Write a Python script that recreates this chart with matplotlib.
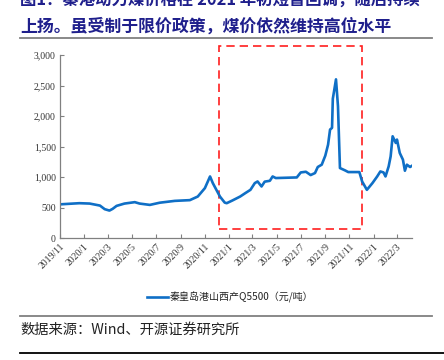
import pandas as pd
import matplotlib.pyplot as plt
import matplotlib.dates as mdates
from matplotlib.patches import Rectangle
from matplotlib.lines import Line2D

plt.rcParams['font.family'] = ['Noto Sans CJK SC', 'DejaVu Sans']

dates = pd.to_datetime([
    '2019-11-01', '2019-12-20', '2020-01-15', '2020-02-10', '2020-02-22', '2020-03-05',
    '2020-03-13', '2020-03-23', '2020-04-12', '2020-05-08', '2020-05-20', '2020-06-15',
    '2020-07-10', '2020-08-17', '2020-09-24', '2020-10-14', '2020-11-01', '2020-11-14',
    '2020-11-21', '2020-12-09', '2020-12-21', '2020-12-26', '2021-01-09', '2021-01-29',
    '2021-02-11', '2021-02-24', '2021-03-07', '2021-03-14', '2021-03-24', '2021-04-01',
    '2021-04-14', '2021-04-21', '2021-04-29', '2021-06-21', '2021-07-01', '2021-07-14',
    '2021-07-26', '2021-08-06', '2021-08-13', '2021-08-23', '2021-09-01', '2021-09-08',
    '2021-09-13', '2021-09-18', '2021-09-20', '2021-09-28', '2021-10-03', '2021-10-08',
    '2021-10-21', '2021-10-29', '2021-11-26', '2021-12-03', '2021-12-15', '2021-12-29',
    '2022-01-10', '2022-01-18', '2022-01-26', '2022-01-31', '2022-02-08', '2022-02-13',
    '2022-02-18', '2022-02-26', '2022-03-01', '2022-03-08', '2022-03-16', '2022-03-21',
    '2022-03-26', '2022-04-03', '2022-04-08',
])
price = [
    553, 572, 566, 533, 474, 451,
    479, 528, 566, 589, 566, 544,
    580, 610, 622, 681, 819, 1010,
    901, 681, 582, 572, 615, 681,
    737, 791, 901, 928, 846, 925,
    939, 1010, 984, 994, 1076, 1087,
    1033, 1066, 1165, 1203, 1351, 1531,
    1778, 1806, 2283, 2601, 2162, 1148,
    1109, 1082, 1082, 928, 791, 901,
    1010, 1092, 1076, 1010, 1175, 1339,
    1668, 1559, 1614, 1395, 1285, 1104,
    1203, 1165, 1186,
]

tick_dates = pd.date_range('2019-11-01', '2022-03-01', freq='2MS')
tick_labels = [f'{d.year}/{d.month}' for d in tick_dates]

box_start, box_end = pd.Timestamp('2020-12-07'), pd.Timestamp('2021-12-03')
box_low, box_high = 150, 3144

fig = plt.figure(figsize=(4.44, 3.6), dpi=100)
ax = fig.add_axes([0.135, 0.3386, 0.793, 0.5086])

ax.plot(dates, price, color='#0F6FC6', lw=1.9, solid_joinstyle='round')

ax.set_xlim(pd.Timestamp('2019-11-01'), pd.Timestamp('2022-04-08'))
ax.set_ylim(0, 3000)
ax.set_yticks(range(0, 3001, 500))
ax.set_yticklabels([f'{v:,}' for v in range(0, 3001, 500)],
                   family=['Liberation Serif'], fontsize=7, color='#333333')
ax.set_xticks(tick_dates)
ax.set_xticklabels(tick_labels, rotation=45, ha='right', rotation_mode='anchor',
                   family=['Liberation Serif'], fontsize=7, color='#333333')
ax.tick_params(direction='in', length=3, color='#808080', pad=3)
for s in ['top', 'right']:
    ax.spines[s].set_visible(False)
for s in ['left', 'bottom']:
    ax.spines[s].set_color('#808080')
    ax.spines[s].set_linewidth(0.9)

x0 = mdates.date2num(box_start)
x1 = mdates.date2num(box_end)
ax.add_patch(Rectangle((x0, box_low), x1 - x0, box_high - box_low, fill=False,
                       ec='#FF1F1F', lw=1.2, ls=(0, (5, 3)), clip_on=False))

# header / footer
navy = '#1F1F8C'
fig.text(0.045, 1.0, '图1：秦港动力煤价格在 2021 年初短暂回调，随后持续', fontsize=11.8,
         fontweight='bold', color=navy, va='center')
fig.text(0.045, 0.925, '上扬。虽受制于限价政策，煤价依然维持高位水平', fontsize=12.2,
         fontweight='bold', color=navy, va='center')
fig.add_artist(Line2D([0.045, 0.973], [0.894, 0.894], color='#808080', lw=1.3))

fig.add_artist(Line2D([0.331, 0.378], [0.175, 0.175], color='#0F6FC6', lw=1.9))
fig.text(0.383, 0.175, '秦皇岛港山西产Q5500（元/吨）', fontsize=7.2, color='#222222', va='center')

fig.add_artist(Line2D([0.045, 0.973], [0.122, 0.122], color='#808080', lw=1.3))
fig.text(0.045, 0.083, '数据来源：Wind、开源证券研究所', fontsize=10.3, color='#222222', va='center')
fig.add_artist(Line2D([0.045, 1.0], [0.019, 0.019], color='black', lw=1.3))

fig.savefig('out.png', dpi=100)
